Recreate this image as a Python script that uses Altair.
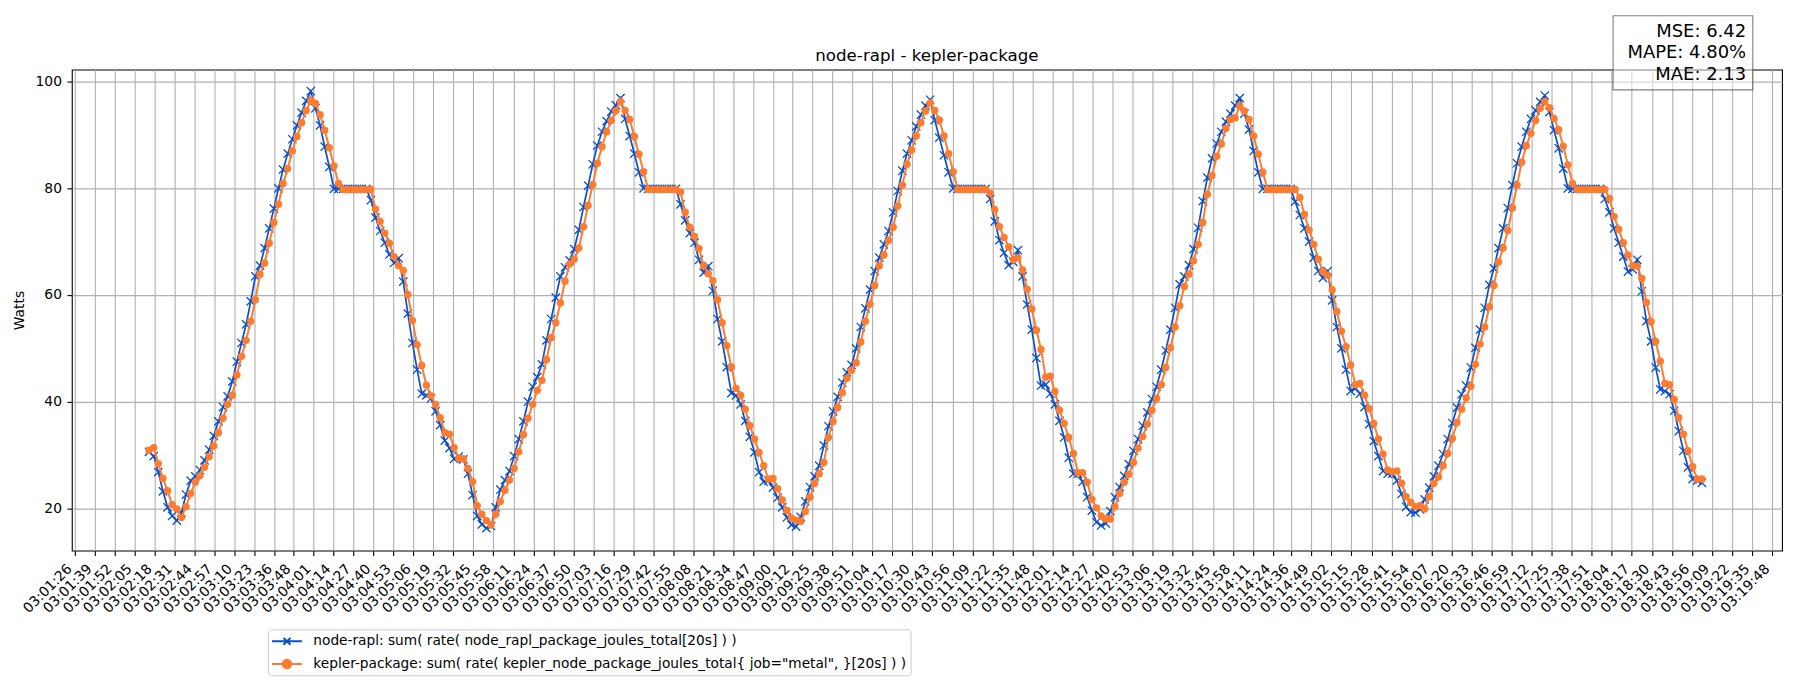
import altair as alt
import pandas as pd

TITLE = "node-rapl - kepler-package"
SERIES = [
    "node-rapl: sum( rate( node_rapl_package_joules_total[20s] ) )",
    'kepler-package: sum( rate( kepler_node_package_joules_total{ job="metal", }[20s] ) )',
]
METRICS = ["MSE: 6.42", "MAPE: 4.80%", "MAE: 2.13"]
Y_LABEL = "Watts"
Y_TICKS = [20, 40, 60, 80, 100]

TICK_LABELS = [
    "03:01:26", "03:01:39", "03:01:52", "03:02:05", "03:02:18", "03:02:31", "03:02:44", "03:02:57",
    "03:03:10", "03:03:23", "03:03:36", "03:03:48", "03:04:01", "03:04:14", "03:04:27", "03:04:40",
    "03:04:53", "03:05:06", "03:05:19", "03:05:32", "03:05:45", "03:05:58", "03:06:11", "03:06:24",
    "03:06:37", "03:06:50", "03:07:03", "03:07:16", "03:07:29", "03:07:42", "03:07:55", "03:08:08",
    "03:08:21", "03:08:34", "03:08:47", "03:09:00", "03:09:12", "03:09:25", "03:09:38", "03:09:51",
    "03:10:04", "03:10:17", "03:10:30", "03:10:43", "03:10:56", "03:11:09", "03:11:22", "03:11:35",
    "03:11:48", "03:12:01", "03:12:14", "03:12:27", "03:12:40", "03:12:53", "03:13:06", "03:13:19",
    "03:13:32", "03:13:45", "03:13:58", "03:14:11", "03:14:24", "03:14:36", "03:14:49", "03:15:02",
    "03:15:15", "03:15:28", "03:15:41", "03:15:54", "03:16:07", "03:16:20", "03:16:33", "03:16:46",
    "03:16:59", "03:17:12", "03:17:25", "03:17:38", "03:17:51", "03:18:04", "03:18:17", "03:18:30",
    "03:18:43", "03:18:56", "03:19:09", "03:19:22", "03:19:35", "03:19:48",
]

# sampling of the two series (one sample every 3 s)
START = "2024-01-01 03:02:14.500"
STEP = "3s"

RAPL = [
    30.6, 29.8, 26.8, 23.2, 20.2, 18.6, 17.7, 19.2, 22.6, 25.2,
    26.0, 27.2, 29.0, 31.0, 33.6, 36.3, 39.0, 41.0, 43.8, 47.5,
    51.0, 54.5, 58.8, 63.5, 65.5, 68.8, 72.5, 76.2, 80.0, 83.5,
    86.5, 89.2, 91.8, 94.2, 96.4, 98.2, 95.0, 91.8, 87.8, 84.0,
    79.9, 79.9, 79.9, 79.9, 79.9, 79.9, 79.9, 79.9, 77.8, 74.5,
    72.0, 69.8, 67.6, 66.0, 66.9, 62.5, 56.5, 51.0, 46.0, 41.5,
    41.2, 40.6, 38.2, 35.6, 32.7, 31.3, 29.3, 29.7, 29.2, 26.5,
    22.5, 18.6, 17.0, 16.3, 16.7, 20.2, 23.5, 25.3, 27.0, 29.8,
    33.0, 36.3, 40.0, 42.8, 44.6, 47.0, 51.5, 55.5, 59.5, 63.5,
    65.2, 66.5, 68.6, 72.2, 76.5, 80.5, 84.5, 88.0, 90.6, 92.6,
    94.4, 95.6, 96.9, 93.0, 89.8, 86.5, 83.0, 80.0, 79.9, 79.9,
    79.9, 79.9, 79.9, 79.9, 79.9, 77.0, 74.0, 71.6, 69.8, 66.6,
    64.2, 65.4, 60.8, 55.5, 51.3, 46.5, 41.6, 41.2, 39.5, 36.4,
    33.4, 30.5, 26.8, 25.0, 25.2, 23.9, 22.0, 20.2, 18.3, 16.9,
    16.6, 18.4, 21.3, 24.0, 26.0, 28.0, 31.8, 35.4, 38.2, 40.9,
    43.6, 45.5, 46.9, 50.0, 54.0, 57.5, 61.0, 64.5, 67.0, 69.5,
    72.0, 75.5, 79.5, 83.3, 86.5, 89.0, 91.6, 93.8, 95.5, 96.6,
    92.8, 89.5, 86.2, 83.0, 80.0, 79.9, 79.9, 79.9, 79.9, 79.9,
    79.9, 79.9, 78.0, 73.8, 70.3, 67.9, 65.6, 66.2, 68.4, 63.5,
    58.2, 53.5, 48.2, 43.0, 43.2, 41.5, 39.5, 36.4, 33.3, 29.5,
    26.5, 26.5, 25.0, 22.1, 19.6, 17.4, 16.8, 17.2, 19.5, 22.1,
    24.0, 26.1, 28.3, 30.8, 33.0, 35.5, 38.0, 40.5, 42.8, 46.0,
    49.6, 53.5, 57.6, 62.0, 63.5, 65.6, 68.6, 72.6, 77.6, 82.0,
    85.6, 88.4, 90.6, 92.5, 94.0, 95.5, 96.9, 94.0, 91.0, 87.0,
    83.0, 79.9, 79.9, 79.9, 79.9, 79.9, 79.9, 79.9, 77.5, 75.0,
    72.5, 70.0, 67.0, 64.5, 63.2, 64.5, 59.0, 54.0, 50.0, 46.0,
    42.0, 42.5, 41.5, 39.0, 35.8, 32.6, 29.8, 27.0, 26.5, 26.5,
    25.2, 22.7, 20.3, 19.3, 19.2, 19.8, 21.7, 23.9, 26.0, 28.0,
    30.2, 33.0, 36.0, 38.9, 41.4, 43.0, 46.4, 50.1, 53.5, 57.6,
    61.9, 65.0, 68.8, 72.5, 76.3, 80.6, 84.7, 87.8, 90.6, 93.0,
    94.6, 96.2, 97.4, 94.3, 90.9, 87.5, 83.7, 80.0, 79.9, 79.9,
    79.9, 79.9, 79.9, 79.9, 79.9, 78.0, 75.5, 72.5, 69.8, 67.2,
    64.4, 64.8, 66.6, 60.7, 55.1, 51.3, 46.4, 42.3, 42.0, 41.4,
    38.3, 34.5, 30.8, 27.7, 25.5, 25.2, 24.8,
]

KEPLER = [
    30.9, 31.4, 28.4, 25.6, 23.3, 20.7, 19.9, 18.3, 20.3, 22.8,
    24.9, 26.1, 27.7, 29.7, 31.7, 34.2, 36.9, 39.5, 41.2, 45.0,
    48.5, 51.5, 55.1, 59.1, 63.9, 66.0, 69.7, 73.6, 77.0, 80.9,
    83.7, 87.0, 89.7, 92.3, 94.6, 96.5, 95.9, 93.8, 90.9, 87.6,
    84.2, 80.9, 79.8, 79.8, 79.8, 79.8, 79.8, 79.8, 79.8, 76.1,
    73.8, 71.6, 69.7, 67.2, 65.5, 64.6, 60.1, 55.2, 50.7, 46.8,
    43.1, 41.1, 39.5, 37.0, 34.2, 33.9, 31.4, 29.4, 29.3, 27.5,
    25.0, 20.5, 18.9, 17.7, 16.9, 18.9, 21.3, 23.4, 25.3, 27.5,
    30.6, 33.8, 36.9, 39.5, 42.1, 44.0, 47.9, 52.0, 54.8, 58.5,
    62.6, 65.8, 66.7, 68.8, 72.8, 76.8, 80.7, 84.7, 87.8, 90.6,
    92.7, 94.5, 96.3, 94.6, 92.9, 89.7, 86.4, 83.1, 79.8, 79.8,
    79.8, 79.8, 79.8, 79.8, 79.8, 79.3, 75.5, 72.7, 71.0, 68.7,
    65.5, 64.0, 62.7, 59.1, 54.8, 50.5, 46.5, 42.5, 41.2, 38.6,
    35.5, 33.0, 30.5, 28.0, 25.5, 25.6, 23.7, 21.6, 19.6, 18.2,
    17.8, 17.6, 19.4, 22.1, 24.7, 26.5, 28.6, 33.3, 36.3, 38.9,
    41.7, 44.4, 45.9, 47.3, 51.2, 55.1, 58.3, 61.8, 65.5, 67.5,
    70.2, 72.7, 76.7, 80.6, 84.5, 87.2, 89.8, 92.3, 94.5, 96.0,
    94.6, 92.8, 89.8, 86.5, 83.1, 79.8, 79.8, 79.8, 79.8, 79.8,
    79.8, 79.8, 79.1, 76.0, 72.8, 70.8, 69.0, 66.6, 67.0, 64.7,
    61.1, 57.4, 53.4, 49.8, 44.6, 44.8, 41.9, 38.4, 35.9, 33.3,
    30.3, 26.7, 26.7, 24.9, 21.7, 20.1, 18.6, 18.0, 18.0, 20.3,
    22.8, 24.9, 26.4, 28.6, 31.3, 33.5, 35.8, 38.4, 40.6, 43.2,
    46.4, 50.1, 54.0, 58.0, 61.6, 63.9, 66.4, 69.5, 73.6, 78.9,
    82.4, 86.0, 88.3, 91.2, 92.9, 93.2, 95.5, 94.5, 92.9, 89.8,
    86.4, 83.0, 79.8, 79.8, 79.8, 79.8, 79.8, 79.8, 79.8, 78.3,
    75.1, 72.2, 69.5, 66.7, 64.4, 63.7, 61.0, 56.9, 53.2, 50.3,
    46.9, 43.2, 43.4, 41.2, 38.7, 35.9, 33.0, 30.2, 27.2, 26.9,
    27.0, 24.7, 22.2, 21.1, 20.3, 20.5, 19.9, 22.2, 24.7, 25.9,
    28.0, 30.3, 33.1, 36.1, 38.6, 40.7, 42.9, 47.0, 50.8, 54.0,
    57.8, 61.8, 66.2, 68.8, 72.1, 76.3, 80.6, 84.9, 88.0, 90.3,
    92.7, 95.0, 96.3, 95.1, 93.1, 91.0, 87.9, 84.4, 80.9, 79.8,
    79.8, 79.8, 79.8, 79.8, 79.8, 79.8, 78.1, 74.7, 72.3, 69.8,
    67.5, 65.5, 65.4, 63.1, 58.6, 55.0, 51.3, 47.6, 43.4, 43.2,
    40.4, 37.0, 33.9, 30.8, 27.8, 25.5, 25.5,
]

BLUE = "#0b4fc8"
ORANGE = "#ff7b2e"
FONT = "DejaVu Sans"

times = pd.date_range(START, periods=len(RAPL), freq=STEP)
time_str = [t.strftime("%Y-%m-%dT%H:%M:%S.%f")[:-3] for t in times]
df_rapl = pd.DataFrame({"time": time_str, "watts": RAPL})
df_kep = pd.DataFrame({"time": time_str, "watts": KEPLER})


def dt(label, ms=0):
    h, m, s = [int(p) for p in label.split(":")]
    return alt.DateTime(year=2024, month=1, date=1, hours=h, minutes=m, seconds=s, milliseconds=ms)


x_scale = alt.Scale(domain=[dt("03:01:24", 380), dt("03:19:54", 500)], nice=False)
y_scale = alt.Scale(domain=[12.1, 102.25], nice=False, zero=False)

x_axis = alt.Axis(
    values=[dt(l) for l in TICK_LABELS], format="%H:%M:%S", title=None,
    labelAngle=-45, labelAlign="right", labelBaseline="bottom", labelPadding=16,
    labelOverlap=False, labelFlush=False, grid=True,
)
y_axis = alt.Axis(
    values=Y_TICKS, format="d", title=Y_LABEL, titleX=-52, titleY=241,
    titleAlign="center", titleBaseline="middle", labelPadding=5.5, grid=True,
)

X = alt.X("time:T", scale=x_scale, axis=x_axis)
Y = alt.Y("watts:Q", scale=y_scale, axis=y_axis)

XPATH = "M-1,-1L1,1M-1,1L1,-1"

line_r = alt.Chart(df_rapl).mark_line(color=BLUE, strokeWidth=1.7).encode(x=X, y=Y)
pts_r = alt.Chart(df_rapl).mark_point(
    shape=XPATH, size=69, filled=False, color=BLUE, strokeWidth=1.3, opacity=1
).encode(x=X, y=Y)
line_k = alt.Chart(df_kep).mark_line(color=ORANGE, strokeWidth=2).encode(x=X, y=Y)
pts_k = alt.Chart(df_kep).mark_point(
    shape="circle", size=55, filled=True, color=ORANGE, opacity=1
).encode(x=X, y=Y)

# legend carrier: no drawn data, only scales for the legend entries
P_BLUE = "M-1,0L2.75,0M0.4375,-0.4375L1.3125,0.4375M0.4375,0.4375L1.3125,-0.4375"
P_ORANGE = "M-1,0L2.75,0M1.405,0A0.53,0.53,0,1,1,0.345,0A0.53,0.53,0,1,1,1.405,0Z"
LEG = alt.Legend(
    title=None, orient="none", legendX=196.6, legendY=561,
    symbolSize=256, symbolStrokeWidth=2, symbolOpacity=1,
    labelFont=FONT, labelFontSize=13.75, labelColor="black", labelLimit=2000,
    labelOffset=24.4, rowPadding=5.7, padding=3,
    strokeColor="#cccccc", fillColor="white", cornerRadius=3,
)
leg_df = pd.DataFrame({"series": SERIES})
carrier = alt.Chart(leg_df).transform_filter("false").mark_point(opacity=1).encode(
    shape=alt.Shape("series:N", scale=alt.Scale(domain=SERIES, range=[P_BLUE, P_ORANGE]), legend=LEG),
    stroke=alt.Stroke("series:N", scale=alt.Scale(domain=SERIES, range=[BLUE, ORANGE]), legend=LEG),
    fill=alt.Fill("series:N", scale=alt.Scale(domain=SERIES, range=["transparent", ORANGE]), legend=LEG),
)

# metrics box (top right)
box = alt.Chart(pd.DataFrame({"k": [0]})).mark_rect(
    fill="white", fillOpacity=0.5, stroke="black", strokeOpacity=0.5, strokeWidth=1.1
).encode(x=alt.value(1544.7), x2=alt.value(1684.7), y=alt.value(-54), y2=alt.value(20.3))
metrics = alt.Chart(pd.DataFrame({"t": ["\n".join(METRICS)]})).mark_text(
    align="right", baseline="alphabetic", fontSize=18, font=FONT,
    lineBreak="\n", lineHeight=21.7, color="black",
).encode(text="t:N", x=alt.value(1678), y=alt.value(-33))

title_txt = alt.Chart(pd.DataFrame({"t": [TITLE]})).mark_text(
    align="center", baseline="alphabetic", fontSize=16.7, font=FONT, color="black"
).encode(text="t:N", x=alt.value(857), y=alt.value(-8.5))

chart = alt.layer(
    line_r, pts_r, line_k, pts_k, carrier, box, metrics, title_txt
).properties(
    width=1714, height=482,
    padding={"left": 64, "top": 61, "right": 10, "bottom": 130},
    autosize=alt.AutoSizeParams(type="none"),
).configure(
    background="white"
).configure_view(
    stroke="black", strokeWidth=1.1
).configure_axis(
    domain=False, tickColor="black", tickWidth=1.1, tickSize=4.9,
    gridColor="#b0b0b0", gridWidth=1.1, gridOpacity=1,
    labelFont=FONT, labelFontSize=13.9, labelColor="black",
    titleFont=FONT, titleFontSize=13.9, titleFontWeight="normal", titleColor="black",
)

chart.save("out.html", embed_options={"renderer": "svg", "actions": False})
